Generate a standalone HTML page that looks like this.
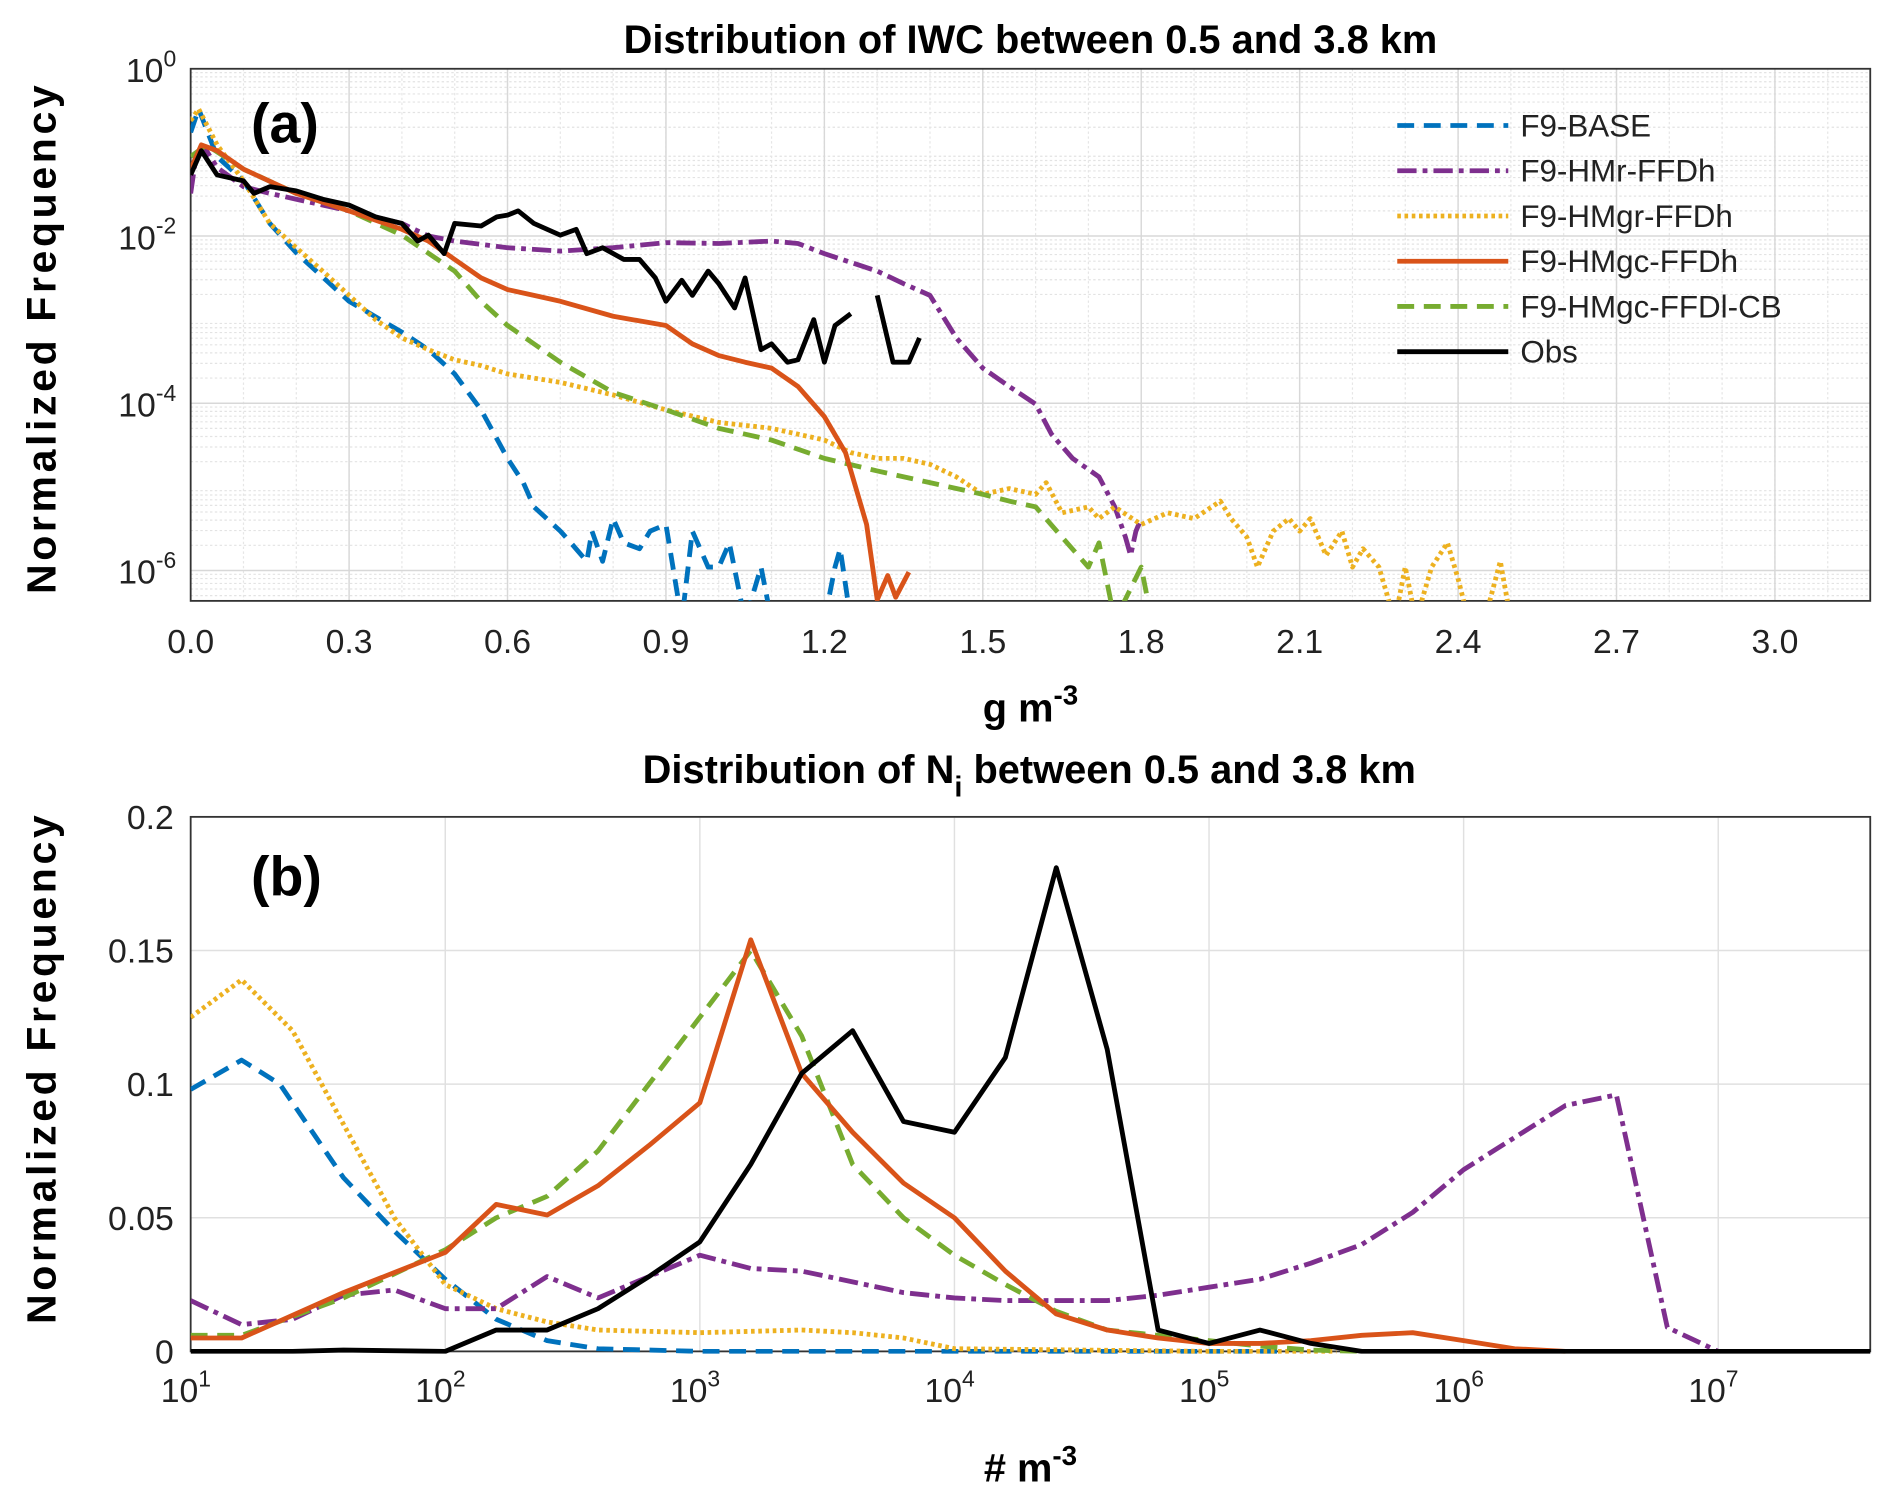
<!DOCTYPE html>
<html><head><meta charset="utf-8"><style>
html,body{margin:0;padding:0;background:#fff;}
svg{display:block;font-family:"Liberation Sans","DejaVu Sans",sans-serif;}
</style></head><body>
<svg id="fig" width="1892" height="1501" viewBox="0 0 1568 1244" xmlns="http://www.w3.org/2000/svg">
<rect width="1568" height="1244" fill="#fff"/>
<g id="pa"></g>
<g id="pb"></g>
</svg>
<script>
// ---------- Panel (a) data: x in g m^-3, y as log10(frequency); null = gap ----------
const aBaseX=[0,0.015,0.05,0.1,0.15,0.2,0.3,0.4,0.45,0.5,0.55,0.6,0.63,0.65,0.7,0.72,0.75,0.76,0.78,0.8,0.82,0.85,0.87,0.9,0.93,0.95,0.98,1.0,1.02,1.05,1.08,1.1,1.2,1.22,1.23,1.25,1.33];
const aBaseY=[-0.76,-0.48,-1.05,-1.34,-1.85,-2.2,-2.78,-3.15,-3.36,-3.65,-4.08,-4.66,-4.95,-5.24,-5.53,-5.67,-5.89,-5.53,-5.89,-5.38,-5.67,-5.74,-5.53,-5.45,-6.6,-5.53,-5.96,-5.96,-5.67,-6.6,-5.96,-6.6,-6.6,-5.96,-5.74,-6.6,-6.6];
const aHMrX=[0,0.01,0.03,0.05,0.1,0.15,0.2,0.3,0.4,0.45,0.5,0.6,0.7,0.8,0.9,1.0,1.1,1.15,1.2,1.3,1.35,1.4,1.45,1.5,1.55,1.6,1.63,1.67,1.72,1.75,1.77,1.78,1.79,1.8];
const aHMrY=[-1.49,-1.05,-0.98,-1.18,-1.41,-1.49,-1.56,-1.70,-1.85,-2.0,-2.06,-2.14,-2.18,-2.14,-2.08,-2.09,-2.06,-2.09,-2.21,-2.42,-2.57,-2.71,-3.22,-3.58,-3.80,-4.01,-4.37,-4.66,-4.88,-5.24,-5.60,-5.82,-5.53,-5.38];
const aHMgrX=[0,0.015,0.05,0.1,0.15,0.2,0.25,0.3,0.35,0.4,0.45,0.5,0.55,0.6,0.7,0.8,0.9,1.0,1.1,1.2,1.25,1.3,1.35,1.4,1.45,1.5,1.55,1.6,1.62,1.65,1.7,1.72,1.75,1.8,1.85,1.9,1.95,1.97,2.0,2.02,2.05,2.08,2.1,2.12,2.15,2.18,2.2,2.22,2.25,2.28,2.3,2.32,2.35,2.38,2.4,2.42,2.45,2.48,2.5];
const aHMgrY=[-0.62,-0.48,-0.91,-1.34,-1.85,-2.14,-2.42,-2.71,-3.0,-3.22,-3.36,-3.48,-3.55,-3.65,-3.75,-3.90,-4.08,-4.23,-4.30,-4.44,-4.59,-4.66,-4.66,-4.73,-4.88,-5.09,-5.02,-5.09,-4.95,-5.31,-5.24,-5.38,-5.24,-5.45,-5.31,-5.38,-5.17,-5.38,-5.60,-5.96,-5.53,-5.38,-5.53,-5.38,-5.82,-5.53,-5.96,-5.74,-5.96,-6.6,-5.96,-6.6,-5.96,-5.67,-6.1,-6.6,-6.6,-5.89,-6.6];
const aHMgcX=[0,0.02,0.05,0.1,0.2,0.3,0.4,0.45,0.5,0.55,0.6,0.65,0.7,0.8,0.9,0.95,1.0,1.05,1.1,1.15,1.2,1.24,1.28,1.30,1.32,1.335,1.36];
const aHMgcY=[-1.20,-0.91,-0.98,-1.20,-1.49,-1.70,-1.92,-2.06,-2.28,-2.50,-2.64,-2.71,-2.78,-2.96,-3.07,-3.29,-3.43,-3.51,-3.58,-3.80,-4.16,-4.59,-5.45,-6.35,-6.06,-6.32,-6.02];
const aHMgcCBX=[0,0.03,0.1,0.2,0.3,0.4,0.5,0.55,0.6,0.7,0.8,0.9,1.0,1.1,1.2,1.3,1.4,1.5,1.55,1.6,1.65,1.7,1.72,1.75,1.8,1.82];
const aHMgcCBY=[-1.05,-0.91,-1.2,-1.49,-1.70,-1.99,-2.42,-2.78,-3.07,-3.51,-3.87,-4.08,-4.30,-4.44,-4.66,-4.81,-4.95,-5.09,-5.17,-5.24,-5.60,-5.96,-5.67,-6.6,-5.96,-6.6];
const aObsX=[0,0.02,0.05,0.1,0.12,0.15,0.2,0.25,0.3,0.35,0.4,0.43,0.45,0.48,0.5,0.55,0.58,0.6,0.62,0.65,0.7,0.73,0.75,0.78,0.82,0.85,0.88,0.9,0.93,0.95,0.98,1.0,1.03,1.05,1.08,1.1,1.13,1.15,1.18,1.2,1.22,1.25,1.27,1.3,1.33,1.36,1.38];
const aObsY=[-1.27,-0.98,-1.27,-1.34,-1.49,-1.41,-1.46,-1.56,-1.63,-1.77,-1.85,-2.06,-1.99,-2.21,-1.85,-1.88,-1.77,-1.75,-1.70,-1.85,-1.99,-1.92,-2.21,-2.14,-2.28,-2.28,-2.50,-2.78,-2.53,-2.71,-2.42,-2.57,-2.86,-2.50,-3.36,-3.29,-3.51,-3.48,-3.0,-3.51,-3.07,-2.93,null,-2.71,-3.51,-3.51,-3.22];
const aTicksX=[0.0,0.3,0.6,0.9,1.2,1.5,1.8,2.1,2.4,2.7,3.0];
const aTicksXLabels=["0.0","0.3","0.6","0.9","1.2","1.5","1.8","2.1","2.4","2.7","3.0"];
const aTicksY=[0,-2,-4,-6];
const aTicksYLabels=["0","-2","-4","-6"];

// ---------- Panel (b) data: x as log10(# m^-3), y frequency ----------
const bBaseX=[1,1.2,1.35,1.6,1.8,2.0,2.2,2.4,2.6,3,4,5,5.3];
const bBaseY=[0.098,0.109,0.10,0.065,0.045,0.027,0.012,0.004,0.001,0,0,0,0];
const bHMrX=[1,1.2,1.4,1.6,1.8,2.0,2.2,2.4,2.6,2.8,3,3.2,3.4,3.6,3.8,4,4.2,4.4,4.6,4.8,5,5.2,5.4,5.6,5.8,6,6.2,6.4,6.6,6.8,7.0];
const bHMrY=[0.019,0.01,0.012,0.021,0.023,0.016,0.016,0.028,0.02,0.028,0.036,0.031,0.03,0.026,0.022,0.02,0.019,0.019,0.019,0.021,0.024,0.027,0.033,0.04,0.052,0.068,0.08,0.092,0.096,0.009,0];
const bHMgrX=[1,1.2,1.4,1.6,1.8,2.0,2.2,2.4,2.6,3,3.4,3.6,3.8,4,4.5,5,5.5];
const bHMgrY=[0.125,0.139,0.12,0.085,0.05,0.025,0.016,0.011,0.008,0.007,0.008,0.007,0.005,0.001,0.0005,0,0];
const bHMgcX=[1,1.2,1.6,2,2.2,2.4,2.6,2.8,3.0,3.2,3.4,3.6,3.8,4,4.2,4.4,4.6,4.8,5.0,5.2,5.4,5.6,5.8,6.0,6.2,6.4];
const bHMgcY=[0.005,0.005,0.022,0.037,0.055,0.051,0.062,0.077,0.093,0.154,0.104,0.082,0.063,0.05,0.03,0.014,0.008,0.005,0.003,0.003,0.004,0.006,0.007,0.004,0.001,0];
const bHMgcCBX=[1,1.2,1.6,2,2.2,2.4,2.6,2.8,3,3.2,3.4,3.6,3.8,4,4.2,4.4,4.6,4.8,5,5.2,5.4,5.6];
const bHMgcCBY=[0.006,0.006,0.02,0.038,0.05,0.058,0.075,0.1,0.125,0.15,0.118,0.07,0.05,0.036,0.025,0.015,0.008,0.006,0.004,0.002,0.0005,0];
const bObsX=[1,1.4,1.6,2,2.2,2.4,2.6,2.8,3,3.2,3.4,3.6,3.8,4.0,4.2,4.4,4.6,4.8,5,5.2,5.4,5.6,7.6];
const bObsY=[0,0,0.0005,0,0.008,0.008,0.016,0.028,0.041,0.07,0.104,0.12,0.086,0.082,0.11,0.181,0.113,0.008,0.003,0.008,0.003,0,0];
const bTicksX=[1,2,3,4,5,6,7];
const bTicksXLabels=["1","2","3","4","5","6","7"];
const bTicksY=[0,0.05,0.1,0.15,0.2];
const bTicksYLabels=["0","0.05","0.1","0.15","0.2"];

const NS="http://www.w3.org/2000/svg";
function mk(tag,attrs,parent,txt){const e=document.createElementNS(NS,tag);for(const k in attrs)e.setAttribute(k,attrs[k]);if(txt!==undefined)e.textContent=txt;parent.appendChild(e);return e;}

const styles={
 base:{c:"#0072BD",d:"14 8",w:4},
 hmr:{c:"#7E2F8E",d:"16 5 4 5",w:4},
 hmgr:{c:"#EDB120",d:"3 3",w:4},
 hmgc:{c:"#D95319",d:"",w:4},
 cb:{c:"#77AC30",d:"14 8",w:4},
 obs:{c:"#000000",d:"",w:4}
};

// ---------- Panel (a) ----------
const A={l:158,r:1550,t:57,b:498};
const axX=v=>A.l+v*(1471-158)/3;
const ayY=v=>A.t-v*69.3;
const pa=document.getElementById('pa');
const clipA=mk('clipPath',{id:'clipA'},pa);mk('rect',{x:A.l,y:A.t,width:A.r-A.l,height:A.b-A.t},clipA);
for(let dec=0;dec>=-7;dec--){for(let m=2;m<=9;m++){const y=ayY(dec-1+Math.log10(m));if(y>A.t&&y<A.b){const g=mk('line',{x1:A.l,x2:A.r,y1:y,y2:y,stroke:"#e3e3e3","stroke-width":1,"stroke-dasharray":"2 2"},pa);

}}}
for(let v=0.1;v<3.2;v+=0.1){const x=axX(v);const g=mk('line',{x1:x,x2:x,y1:A.t,y2:A.b,stroke:"#e6e6e6","stroke-width":1,"stroke-dasharray":"2 2"},pa);

}
aTicksX.forEach((v,i)=>{const x=axX(v);const g=mk('line',{x1:x,x2:x,y1:A.t,y2:A.b,stroke:"#d8d8d8","stroke-width":1.2},pa);


const t=mk('text',{x:x,y:541,"font-size":28,"text-anchor":"middle",fill:"#222"},pa,aTicksXLabels[i]);

});
aTicksY.forEach((v,i)=>{const y=ayY(v);const g=mk('line',{x1:A.l,x2:A.r,y1:y,y2:y,stroke:"#d8d8d8","stroke-width":1.2},pa);


const t=mk('text',{x:146,y:y+11,"font-size":28,"text-anchor":"end",fill:"#222"},pa);


mk('tspan',{},t,"10");mk('tspan',{dy:-13,"font-size":19},t,aTicksYLabels[i]);});
mk('rect',{x:A.l,y:A.t,width:A.r-A.l,height:A.b-A.t,fill:"none",stroke:"#333","stroke-width":1.5},pa);
function drawA(xs,ys,st,name){let d="",pen=false;xs.forEach((x,i)=>{const y=ys[i];if(y===null){pen=false;return;}d+=(pen?"L":"M")+axX(x).toFixed(1)+","+ayY(y).toFixed(1)+" ";pen=true;});
const p=mk('path',{d:d,fill:"none",stroke:st.c,"stroke-width":st.w,"stroke-dasharray":st.d,"stroke-linejoin":"round","clip-path":"url(#clipA)"},pa);

}
drawA(aBaseX,aBaseY,styles.base,'series-a-f9-base');
drawA(aHMrX,aHMrY,styles.hmr,'series-a-f9-hmr-ffdh');
drawA(aHMgrX,aHMgrY,styles.hmgr,'series-a-f9-hmgr-ffdh');
drawA(aHMgcCBX,aHMgcCBY,styles.cb,'series-a-f9-hmgc-ffdl-cb');
drawA(aHMgcX,aHMgcY,styles.hmgc,'series-a-f9-hmgc-ffdh');
drawA(aObsX,aObsY,styles.obs,'series-a-obs');
const legNames=["F9-BASE","F9-HMr-FFDh","F9-HMgr-FFDh","F9-HMgc-FFDh","F9-HMgc-FFDl-CB","Obs"];
const legKeys=["base","hmr","hmgr","hmgc","cb","obs"];
legNames.forEach((n,i)=>{const y=104+i*37.5;const st=styles[legKeys[i]];
const l=mk('line',{x1:1158,x2:1250,y1:y,y2:y,stroke:st.c,"stroke-width":4,"stroke-dasharray":st.d},pa);


const t=mk('text',{x:1260,y:y+9,"font-size":26,fill:"#222"},pa,n);

});

// ---------- Panel (b) ----------
const B={l:158,r:1550,t:677,b:1120};
const bxX=v=>B.l+(v-1)*211;
const byY=v=>B.b-v*(B.b-B.t)/0.2;
const pb=document.getElementById('pb');
const clipB=mk('clipPath',{id:'clipB'},pb);mk('rect',{x:B.l,y:B.t-2,width:B.r-B.l,height:B.b-B.t+4},clipB);
bTicksX.forEach((v,i)=>{const x=bxX(v);const g=mk('line',{x1:x,x2:x,y1:B.t,y2:B.b,stroke:"#e0e0e0","stroke-width":1.2},pb);


const t=mk('text',{x:x-4,y:1162,"font-size":28,"text-anchor":"middle",fill:"#222"},pb);


mk('tspan',{},t,"10");mk('tspan',{dy:-13,"font-size":19},t,bTicksXLabels[i]);});
bTicksY.forEach((v,i)=>{const y=byY(v);const g=mk('line',{x1:B.l,x2:B.r,y1:y,y2:y,stroke:"#e0e0e0","stroke-width":1.2},pb);


const t=mk('text',{x:144,y:y+10,"font-size":28,"text-anchor":"end",fill:"#222"},pb,bTicksYLabels[i]);

});
mk('rect',{x:B.l,y:B.t,width:B.r-B.l,height:B.b-B.t,fill:"none",stroke:"#333","stroke-width":1.5},pb);
function drawB(xs,ys,st,name){let d="";xs.forEach((x,i)=>{d+=(i?"L":"M")+bxX(x).toFixed(1)+","+byY(ys[i]).toFixed(1)+" ";});
const p=mk('path',{d:d,fill:"none",stroke:st.c,"stroke-width":st.w,"stroke-dasharray":st.d,"stroke-linejoin":"round","clip-path":"url(#clipB)"},pb);

}
drawB(bBaseX,bBaseY,styles.base,'series-b-f9-base');
drawB(bHMgrX,bHMgrY,styles.hmgr,'series-b-f9-hmgr-ffdh');
drawB(bHMrX,bHMrY,styles.hmr,'series-b-f9-hmr-ffdh');
drawB(bHMgcCBX,bHMgcCBY,styles.cb,'series-b-f9-hmgc-ffdl-cb');
drawB(bHMgcX,bHMgcY,styles.hmgc,'series-b-f9-hmgc-ffdh');
drawB(bObsX,bObsY,styles.obs,'series-b-obs');
</script>
<script>
(function(){
const svg=document.getElementById('fig');
const NS="http://www.w3.org/2000/svg";
function t(attrs,txt,name){const e=document.createElementNS(NS,'text');for(const k in attrs)e.setAttribute(k,attrs[k]);e.innerHTML=txt;


svg.appendChild(e);return e;}
t({x:854,y:44,"font-size":33,"font-weight":"bold","text-anchor":"middle"},"Distribution of IWC between 0.5 and 3.8 km","title-a");
t({x:853,y:649,"font-size":33,"font-weight":"bold","text-anchor":"middle"},'Distribution of N<tspan dy="11" font-size="24">i</tspan><tspan dy="-11"> between 0.5 and 3.8 km</tspan>',"title-b");
t({x:208,y:118,"font-size":46,"font-weight":"bold"},"(a)","panel-label-a");
t({x:208,y:742,"font-size":46,"font-weight":"bold"},"(b)","panel-label-b");
t({x:854,y:598,"font-size":33,"font-weight":"bold","text-anchor":"middle"},'g m<tspan dy="-14" font-size="23">-3</tspan>',"x-axis-title-a");
t({x:854,y:1228,"font-size":33,"font-weight":"bold","text-anchor":"middle"},'# m<tspan dy="-14" font-size="23">-3</tspan>',"x-axis-title-b");
t({x:0,y:0,"font-size":34,"font-weight":"bold","text-anchor":"middle","letter-spacing":"3",transform:"translate(46,280) rotate(-90)"},"Normalized Frequency","y-axis-title-a");
t({x:0,y:0,"font-size":34,"font-weight":"bold","text-anchor":"middle","letter-spacing":"3",transform:"translate(46,885) rotate(-90)"},"Normalized Frequency","y-axis-title-b");
})();
</script>
</body></html>
